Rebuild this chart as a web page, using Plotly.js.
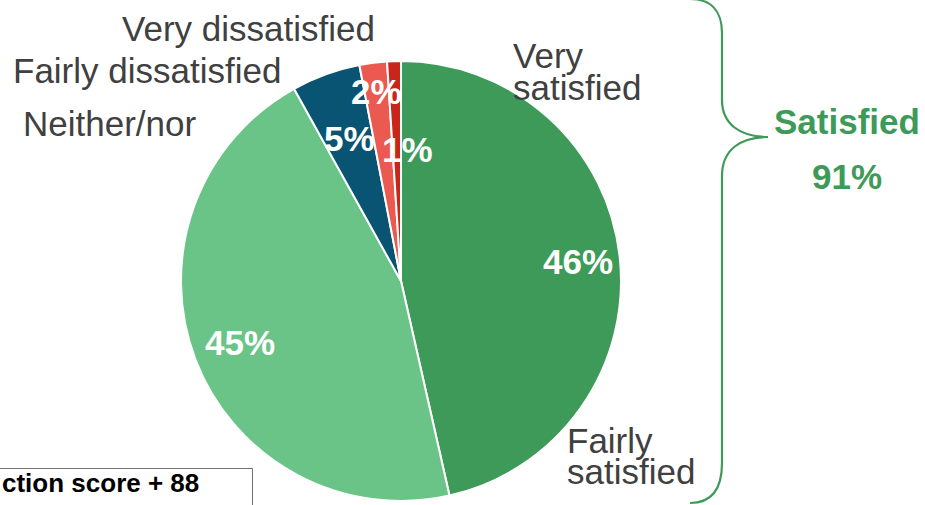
<!DOCTYPE html>
<html>
<head>
<meta charset="utf-8">
<script src="https://cdn.plot.ly/plotly-3.0.1.min.js"></script>
<style>html,body{margin:0;padding:0;background:#fff;}#chart{width:925px;height:505px;}</style>
</head>
<body>
<div id="chart"></div>
<script>
// ---- data ----
const categories = ["Very satisfied", "Fairly satisfied", "Neither/nor", "Fairly dissatisfied", "Very dissatisfied"];
const values = [46, 45, 5, 2, 1];
const pctLabels = ["46%", "45%", "5%", "2%", "1%"];
const satisfiedLabel = "Satisfied";
const satisfiedTotal = "91%";
const scoreText = "ction score + 88";

// ---- style ----
const colors = ["#3e9a58", "#6bc487", "#0a5473", "#ea5a50", "#c8261b"];
const labelRadius = [0.81, 0.785, 0.69, 0.87, 0.6];
const labelNudgeDeg = [0, 0, 0, 0, 4.8];
const W = 925, H = 505;
const cx = 401, cy = 281, R = 220;
const px = x => x / W;
const py = y => 1 - y / H;
const FONT = '"Liberation Sans", Arial, Helvetica, sans-serif';
const textGrey = "#404040";

const trace = {
  type: "pie",
  labels: categories,
  values: values,
  sort: false,
  direction: "clockwise",
  rotation: 0,
  textinfo: "none",
  hoverinfo: "label+percent",
  marker: {colors: colors, line: {color: "#ffffff", width: 2}},
  domain: {x: [px(cx - R), px(cx + R)], y: [py(cy + R), py(cy - R)]},
  showlegend: false
};

const annotations = [];
// percentage labels placed at slice mid-angles computed from data
const total = values.reduce((a, b) => a + b, 0);
let cum = 0;
values.forEach((v, i) => {
  const mid = (cum + v / 2) / total * 360 + labelNudgeDeg[i];
  cum += v;
  const th = mid * Math.PI / 180;
  const r = R * labelRadius[i];
  annotations.push({
    xref: "paper", yref: "paper",
    x: px(cx + r * Math.sin(th)), y: py(cy - r * Math.cos(th)),
    text: pctLabels[i], showarrow: false,
    xanchor: "center", yanchor: "middle",
    font: {family: FONT, size: 35, color: "#ffffff", weight: 700}
  });
});

// category labels
const catLines = [
  {t: "Very", x: 511, y: 56, a: "left"},
  {t: "satisfied", x: 511, y: 88, a: "left"},
  {t: "Fairly", x: 565, y: 440, a: "left"},
  {t: "satisfied", x: 565, y: 471, a: "left"},
  {t: "Neither/nor", x: 21, y: 123, a: "left"},
  {t: "Fairly dissatisfied", x: 11, y: 70, a: "left"},
  {t: "Very dissatisfied", x: 120, y: 28, a: "left"}
];
catLines.forEach(l => annotations.push({
  xref: "paper", yref: "paper", x: px(l.x), y: py(l.y),
  text: l.t, showarrow: false, xanchor: l.a, yanchor: "middle",
  font: {family: FONT, size: 35, color: textGrey}
}));

// satisfied summary
annotations.push({xref: "paper", yref: "paper", x: px(847), y: py(121), text: satisfiedLabel,
  showarrow: false, xanchor: "center", yanchor: "middle",
  font: {family: FONT, size: 35, color: colors[0], weight: 700}});
annotations.push({xref: "paper", yref: "paper", x: px(847), y: py(176), text: satisfiedTotal,
  showarrow: false, xanchor: "center", yanchor: "middle",
  font: {family: FONT, size: 35, color: colors[0], weight: 700}});

// score box text
annotations.push({xref: "paper", yref: "paper", x: px(0), y: py(483), text: scoreText,
  showarrow: false, xanchor: "left", yanchor: "middle",
  font: {family: FONT, size: 26, color: "#000000", weight: 700}});

// brace path in paper coordinates
function P(x, y) { return px(x).toFixed(5) + "," + py(y).toFixed(5); }
const brace = "M" + P(690, -1) +
  " C" + P(712, -1) + " " + P(722, 12) + " " + P(722, 33) +
  " L" + P(722, 100) +
  " C" + P(722, 124) + " " + P(740, 137) + " " + P(768, 137) +
  " C" + P(740, 137) + " " + P(722, 150) + " " + P(722, 176) +
  " L" + P(722, 463) +
  " C" + P(722, 489) + " " + P(712, 503) + " " + P(690, 503);

const shapes = [
  {type: "path", xref: "paper", yref: "paper", path: brace,
   line: {color: colors[0], width: 2.2}},
  {type: "rect", xref: "paper", yref: "paper",
   x0: px(-3), x1: px(252.5), y0: py(520), y1: py(468.5),
   line: {color: "#707070", width: 1}, fillcolor: "rgba(0,0,0,0)"}
];

const layout = {
  width: W, height: H,
  margin: {l: 0, r: 0, t: 0, b: 0},
  paper_bgcolor: "#ffffff",
  plot_bgcolor: "#ffffff",
  showlegend: false,
  annotations: annotations,
  shapes: shapes,
  font: {family: FONT}
};

Plotly.newPlot("chart", [trace], layout, {displayModeBar: false, staticPlot: true});
</script>
</body>
</html>
